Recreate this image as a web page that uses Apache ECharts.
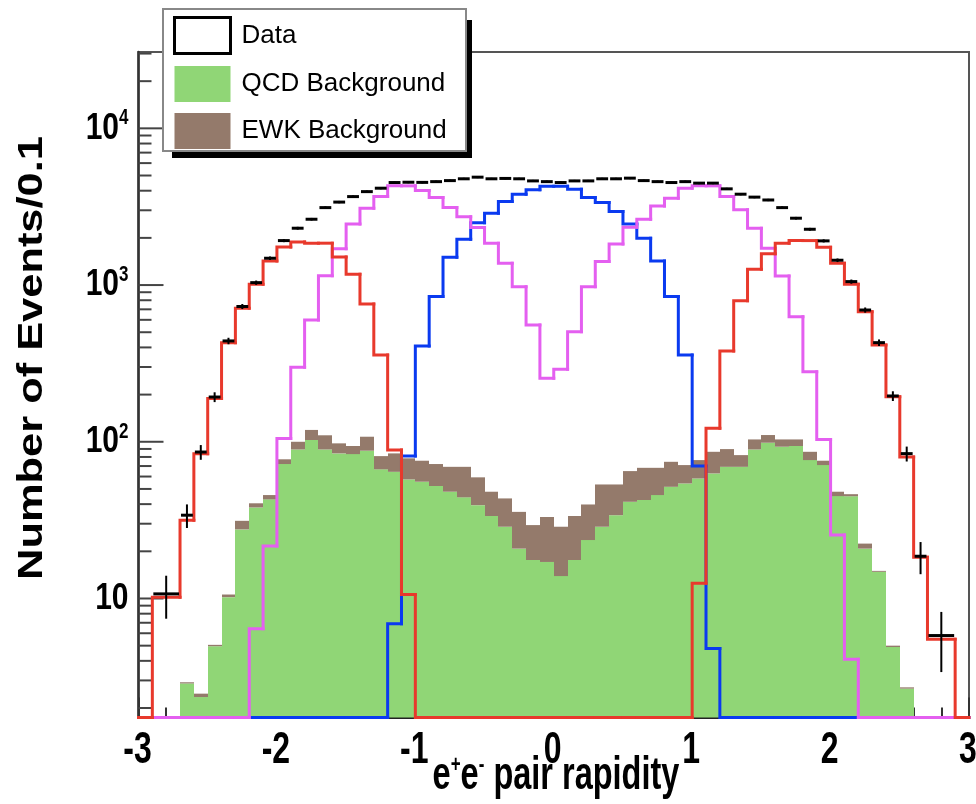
<!DOCTYPE html>
<html>
<head>
<meta charset="utf-8">
<script src="https://cdn.jsdelivr.net/npm/echarts@6/dist/echarts.min.js"></script>
<style>
  html, body { margin: 0; padding: 0; background: #ffffff; }
  #chart { width: 976px; height: 804px; }
</style>
</head>
<body>
<div id="chart"></div>
<script>
// ---- axis ranges ----
const X_MIN = -3, X_MAX = 3;
const Y_MIN = 1.74, Y_MAX = 30700;

// ---- binning ----
// background histograms: uniform 0.1 bins
const fineEdges = Array.from({ length: 61 }, (_, k) => +(-3 + 0.1 * k).toFixed(1));
// data and signal templates: outermost bins merged to 0.2
const coarseEdges = [-3.0, -2.9, -2.7, -2.6, -2.5, -2.4, -2.3, -2.2, -2.1, -2.0, -1.9, -1.8, -1.7, -1.6,
  -1.5, -1.4, -1.3, -1.2, -1.1, -1.0, -0.9, -0.8, -0.7, -0.6, -0.5, -0.4, -0.3, -0.2, -0.1, 0.0,
  0.1, 0.2, 0.3, 0.4, 0.5, 0.6, 0.7, 0.8, 0.9, 1.0, 1.1, 1.2, 1.3, 1.4, 1.5, 1.6, 1.7, 1.8, 1.9,
  2.0, 2.1, 2.2, 2.3, 2.4, 2.5, 2.6, 2.7, 2.9, 3.0];

// ---- contents (events / 0.1) ----
const dataCounts = [0, 10.7, 34, 86, 193, 440, 730, 1036, 1483, 1922, 2305, 2630, 3120, 3384, 3668,
  3946, 4150, 4510, 4530, 4520, 4570, 4640, 4765, 4880, 4765, 4790, 4765, 4620, 4570, 4510, 4620,
  4620, 4765, 4765, 4810, 4640, 4570, 4510, 4570, 4470, 4470, 4110, 3800, 3640, 3490, 3120, 2670,
  2270, 1914, 1440, 1052, 693, 429, 196, 84, 18.6, 5.8, 0];

// signal template, both electrons in the forward region (red)
const forwardForward = [0, 10.2, 31.6, 84, 189, 429, 711, 1012, 1425, 1750, 1880, 1850, 1850, 1510,
  1170, 757, 358, 88.5, 10.6, 0, 0, 0, 0, 0, 0, 0, 0, 0, 0, 0, 0, 0, 0, 0, 0, 0, 0, 0, 0,
  12.5, 122, 379, 795, 1262, 1582, 1849, 1922, 1922, 1742, 1378, 1012, 676, 414, 194, 80, 18.3, 5.5, 0];

// signal template, one central and one forward electron (magenta)
const centralForward = [0, 0, 0, 0, 0, 0, 0, 6.4, 21.6, 105, 299, 599, 1148, 1705, 2455, 3090, 3668,
  4295, 4295, 4010, 3617, 3120, 2733, 2328, 1849, 1378, 977, 556, 254, 290, 504, 977, 1413, 1829,
  2340, 2630, 3198, 3581, 4150, 4295, 4295, 3668, 3020, 2305, 1718, 1142, 628, 280, 103.5, 25.4,
  4.1, 0, 0, 0, 0, 0, 0, 0];

// signal template, both electrons central (blue)
const centralCentral = [0, 0, 0, 0, 0, 0, 0, 0, 0, 0, 0, 0, 0, 0, 0, 0, 0, 6.9, 81, 408, 844, 1504,
  1960, 2500, 2870, 3412, 3800, 4050, 4270, 4270, 4093, 3617, 3358, 2945, 2455, 1990, 1425, 844, 358,
  70, 4.8, 0, 0, 0, 0, 0, 0, 0, 0, 0, 0, 0, 0, 0, 0, 0, 0, 0];

const qcdBackground = [0, 0, 0, 2.87, 2.35, 4.96, 10.2, 27.6, 38.1, 42.9, 72.1, 89.3, 102.6, 89.3,
  84.3, 83.4, 87.7, 66.7, 64.3, 57.5, 55.6, 52.2, 48.0, 44.2, 39.4, 33.6, 28.7, 20.8, 17.6, 17.1,
  13.9, 17.6, 23.6, 28.7, 34.0, 41.4, 42.5, 45.7, 51.6, 54.2, 58.3, 62.8, 69.2, 69.2, 89.3, 98.6,
  93, 94, 76.4, 71, 45, 44.9, 20.8, 14.8, 4.9, 2.66, 0, 0, 0, 0];

const ewkBackground = [0, 0, 0, 0.05, 0.12, 0.1, 0.4, 3.7, 2.4, 2.8, 5.2, 10.7, 16.4, 20.7, 13.4,
  10.6, 20, 14.3, 20, 20.9, 20.1, 19.9, 21.2, 25, 19.9, 14.4, 14.8, 14.9, 11.8, 16, 14.8, 16, 16.2,
  24.7, 19.4, 23.6, 25.7, 22.5, 22.9, 16.8, 18.1, 23.5, 20.6, 13, 14.2, 11.8, 10.5, 9.5, 9.9, 4.7,
  3, 1.4, 1.6, 0.2, 0.1, 0.05, 0, 0, 0, 0];

// ---- tick labels ----
const xTickValues = [-3, -2, -1, 0, 1, 2, 3];
const xTickLabels = ['-3', '-2', '-1', '0', '1', '2', '3'];
const yTickValues = [10, 100, 1000, 10000];
const yTickPowers = ['', '2', '3', '4'];

// ---- style ----
const FONT = "'Liberation Sans', Arial, Helvetica, sans-serif";
const COLORS = {
  qcd: '#90d676', ewk: '#947a6b', ff: '#e8392c', cf: '#e45ff0', cc: '#0a3af0', data: '#000000'
};

const clampY = v => Math.max(v, Y_MIN);

// filled bar per bin between lo and hi (edges snapped to whole pixels so bins butt cleanly)
function fillRenderer(color) {
  return function (params, api) {
    const x0 = api.value(0), x1 = api.value(1), lo = api.value(2), hi = api.value(3);
    if (!(hi > lo) || hi <= Y_MIN) return null;
    const pTop = api.coord([x0, clampY(hi)]);
    const pBot = api.coord([x1, clampY(lo)]);
    const left = Math.round(pTop[0]), right = Math.round(pBot[0]);
    return {
      type: 'rect',
      shape: { x: left, y: pTop[1], width: right - left, height: pBot[1] - pTop[1] },
      style: { fill: color }
    };
  };
}

// histogram outline: rise from previous bin content, then across this bin
function stepRenderer(color) {
  return function (params, api) {
    const x0 = api.value(0), x1 = api.value(1), v = api.value(2), prev = api.value(3);
    const a = api.coord([x0, clampY(prev)]);
    const b = api.coord([x0, clampY(v)]);
    const c = api.coord([x1, clampY(v)]);
    return {
      type: 'polyline',
      shape: { points: [a, b, c] },
      style: { stroke: color, lineWidth: 3, fill: null, lineCap: 'square', lineJoin: 'miter' }
    };
  };
}

// data point: bin-wide horizontal bar plus Poisson error bar
function dataRenderer(params, api) {
  const x0 = api.value(0), x1 = api.value(1), v = api.value(2);
  if (!(v > 0)) return null;
  const err = Math.sqrt(v);
  const xc = (x0 + x1) / 2;
  const l = api.coord([x0, v]), r = api.coord([x1, v]);
  const up = api.coord([xc, v + err]), dn = api.coord([xc, clampY(v - err)]);
  return {
    type: 'group',
    children: [
      { type: 'line', shape: { x1: l[0] + 1, y1: l[1], x2: r[0] - 1, y2: r[1] },
        style: { stroke: '#000', lineWidth: 3 } },
      { type: 'line', shape: { x1: up[0], y1: up[1], x2: dn[0], y2: dn[1] },
        style: { stroke: '#000', lineWidth: 2 } }
    ]
  };
}

// log-axis tick marks at 1..9 x 10^k, drawn inside the frame
const yTickMarks = [];
for (let e = 0; e <= 4; e++) {
  for (let m = 1; m <= 9; m++) {
    const v = m * Math.pow(10, e);
    if (v >= Y_MIN && v <= Y_MAX) yTickMarks.push([X_MIN, v, m === 1 ? 1 : 0]);
  }
}
function yTickRenderer(params, api) {
  const p = api.coord([api.value(0), api.value(1)]);
  const len = api.value(2) ? 25 : 13;
  return {
    type: 'line',
    shape: { x1: p[0], y1: p[1], x2: p[0] + len, y2: p[1] },
    style: { stroke: '#444', lineWidth: 2 }
  };
}

const stepData = vals => vals.map((v, k) => [coarseEdges[k], coarseEdges[k + 1], v, k ? vals[k - 1] : 0]);
const qcdData = qcdBackground.map((v, k) => [fineEdges[k], fineEdges[k + 1], 0, v]);
const ewkData = ewkBackground.map((v, k) => [fineEdges[k], fineEdges[k + 1], qcdBackground[k], qcdBackground[k] + v]);
const pointData = dataCounts.map((v, k) => [coarseEdges[k], coarseEdges[k + 1], v]);

const chart = echarts.init(document.getElementById('chart'), null, { renderer: 'canvas' });

chart.setOption({
  animation: false,
  backgroundColor: '#ffffff',
  grid: {
    left: 138.5, right: 7, top: 52, bottom: 86.5,
    containLabel: false, outerBoundsMode: 'none',
    show: true, borderColor: '#555', borderWidth: 2, backgroundColor: 'transparent'
  },
  xAxis: {
    type: 'value', min: X_MIN, max: X_MAX, interval: 1,
    axisLine: { show: true, onZero: false, lineStyle: { color: '#222', width: 2 } },
    axisTick: { show: true, inside: true, length: 20, lineStyle: { color: '#333', width: 2 } },
    minorTick: { show: true, splitNumber: 5, length: 10, lineStyle: { color: '#333', width: 2 } },
    splitLine: { show: false },
    axisLabel: { show: false }
  },
  yAxis: {
    type: 'log', logBase: 10, min: Y_MIN, max: Y_MAX,
    axisLine: { show: true, onZero: false, lineStyle: { color: '#333', width: 2.5 } },
    axisTick: { show: false },
    splitLine: { show: false },
    axisLabel: { show: false }
  },
  legend: {
    orient: 'vertical', left: 173, top: 16, padding: 0, itemGap: 11,
    itemWidth: 56, itemHeight: 36, selectedMode: false, z: 10,
    textStyle: { fontFamily: FONT, fontSize: 26, color: '#000', padding: [0, 0, 0, 6] },
    data: [
      { name: 'Data', icon: 'rect', itemStyle: { color: '#ffffff', borderColor: '#000', borderWidth: 3 } },
      { name: 'QCD Background', icon: 'rect', itemStyle: { color: COLORS.qcd, borderWidth: 0 } },
      { name: 'EWK Background', icon: 'rect', itemStyle: { color: COLORS.ewk, borderWidth: 0 } }
    ]
  },
  series: [
    { type: 'custom', name: 'ticks', z: 1, silent: true, data: yTickMarks,
      encode: { x: 0, y: 1 }, renderItem: yTickRenderer },
    { type: 'custom', name: 'QCD Background', z: 2, data: qcdData, itemStyle: { color: COLORS.qcd },
      encode: { x: [0, 1], y: [2, 3] }, renderItem: fillRenderer(COLORS.qcd) },
    { type: 'custom', name: 'EWK Background', z: 2, data: ewkData, itemStyle: { color: COLORS.ewk },
      encode: { x: [0, 1], y: [2, 3] }, renderItem: fillRenderer(COLORS.ewk) },
    { type: 'custom', name: 'central-central', z: 3, data: stepData(centralCentral),
      encode: { x: [0, 1], y: [2, 3] }, renderItem: stepRenderer(COLORS.cc) },
    { type: 'custom', name: 'central-forward', z: 4, data: stepData(centralForward),
      encode: { x: [0, 1], y: [2, 3] }, renderItem: stepRenderer(COLORS.cf) },
    { type: 'custom', name: 'forward-forward', z: 5, data: stepData(forwardForward),
      encode: { x: [0, 1], y: [2, 3] }, renderItem: stepRenderer(COLORS.ff) },
    { type: 'custom', name: 'Data', z: 6, data: pointData, itemStyle: { color: '#000' },
      encode: { x: [0, 1], y: 2 }, renderItem: dataRenderer }
  ]
});

// ---- legend frame, axis titles and tick labels (tall, narrow lettering) ----
const gridRect = chart.getModel().getComponent('grid').coordinateSystem.getRect();
const axisBottom = gridRect.y + gridRect.height;
const axisLeft = gridRect.x;

const graphics = [
  { type: 'rect', z: 8, shape: { x: 172, y: 20, width: 300, height: 138 }, style: { fill: '#000' } },
  { type: 'rect', z: 9, shape: { x: 163, y: 9, width: 303, height: 142 },
    style: { fill: '#fff', stroke: '#888', lineWidth: 2 } },
  { type: 'text', z: 10, x: 32, y: 358, rotation: Math.PI / 2, scaleX: 1.24,
    style: { text: 'Number of Events/0.1', fontFamily: FONT, fontWeight: 'bold', fontSize: 35,
      fill: '#000', align: 'center', verticalAlign: 'middle' } },
  { type: 'text', z: 10, x: 556, y: 776, scaleY: 1.42,
    style: {
      text: '{a|e}{s|+}{a|e}{s|-}{a| pair rapidity}', align: 'center', verticalAlign: 'middle',
      rich: {
        a: { fontFamily: FONT, fontWeight: 'bold', fontSize: 32.5, fill: '#000' },
        s: { fontFamily: FONT, fontWeight: 'bold', fontSize: 17, fill: '#000', padding: [0, 0, 15, 0] }
      }
    } }
];

xTickValues.forEach((v, k) => {
  const px = chart.convertToPixel({ xAxisIndex: 0 }, v);
  graphics.push({
    type: 'text', z: 10, x: px - 1, y: axisBottom + 11, scaleY: 1.4,
    style: { text: xTickLabels[k], fontFamily: FONT, fontWeight: 'bold', fontSize: 32,
      fill: '#000', align: 'center', verticalAlign: 'top' }
  });
});

yTickValues.forEach((v, k) => {
  const py = chart.convertToPixel({ yAxisIndex: 0 }, v);
  const txt = yTickPowers[k] ? '{b|10}{s|' + yTickPowers[k] + '}' : '{b|10}';
  graphics.push({
    type: 'text', z: 10, x: axisLeft - 10, y: py, scaleY: 1.25,
    style: {
      text: txt, align: 'right', verticalAlign: 'middle',
      rich: {
        b: { fontFamily: FONT, fontWeight: 'bold', fontSize: 30, fill: '#000' },
        s: { fontFamily: FONT, fontWeight: 'bold', fontSize: 17, fill: '#000', padding: [0, 0, 16, 0] }
      }
    }
  });
});

chart.setOption({ graphic: graphics });
</script>
</body>
</html>
